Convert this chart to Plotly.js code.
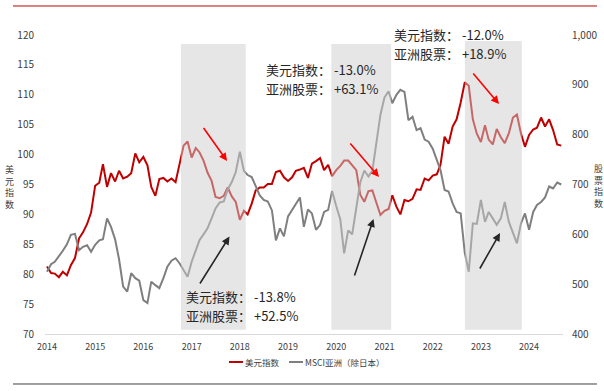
<!DOCTYPE html>
<html><head><meta charset="utf-8">
<script src="https://cdn.plot.ly/plotly-3.0.1.min.js"></script>
<style>html,body{margin:0;padding:0;background:#fff}#chart{width:604px;height:391px}</style>
</head><body><div id="chart"></div>
<script>
// ---- data (monthly, Jan 2014 – Sep 2024) ----
const startYear = 2014;
const monthCount = 129;
const dxy = [
  81.3, 80.2, 80.1, 79.5, 80.4, 79.8, 81.5, 82.7, 86.0, 87.0, 88.4, 90.3,
  94.8, 95.3, 98.4, 94.6, 96.9, 95.5, 97.3, 96.0, 96.3, 96.9, 100.2, 98.7,
  99.6, 98.2, 94.6, 93.1, 95.9, 96.1, 95.5, 96.0, 95.4, 98.4, 101.5, 102.2,
  99.5, 101.1, 100.4, 99.0, 97.0, 95.6, 92.9, 92.7, 93.1, 94.5, 93.0, 92.1,
  89.1, 90.6, 90.0, 91.8, 94.0, 94.5, 94.5, 95.1, 95.1, 97.1, 97.3, 96.2,
  95.6, 96.2, 97.3, 97.5, 97.8, 96.1, 98.5, 98.9, 99.4, 97.4, 98.3, 96.4,
  97.4, 98.1, 99.0, 99.0, 98.3, 97.4, 93.3, 92.1, 93.9, 94.0, 91.9, 89.9,
  90.6, 90.9, 93.2, 91.3, 90.0, 92.4, 92.2, 92.6, 94.2, 94.1, 96.0, 95.7,
  96.5, 96.7, 98.3, 103.0, 101.8, 104.7, 105.9, 108.7, 112.1, 111.5, 105.9, 103.5,
  102.1, 104.9, 102.5, 101.7, 104.3, 102.9, 101.9, 103.6, 106.2, 106.7, 103.5, 101.3,
  103.3, 104.2, 104.5, 106.2, 104.7, 105.9, 104.1, 101.7, 101.5
];
const msciAsia = [
  525, 540, 545, 555, 567, 580, 599, 601, 568, 575, 578, 565,
  579, 588, 590, 632, 615, 590, 550, 495, 485, 522, 512, 507,
  468, 462, 505, 498, 492, 512, 535, 547, 552, 542, 528, 515,
  545, 568, 588, 600, 612, 632, 652, 664, 666, 690, 705, 725,
  766, 727, 719, 715, 698, 678, 669, 666, 648, 588, 612, 596,
  636, 650, 662, 674, 615, 650, 642, 609, 619, 645, 649, 687,
  657, 630, 562, 608, 600, 655, 704, 728, 716, 728, 789, 840,
  875, 887, 863, 880, 890, 886, 829, 836, 809, 813, 790, 786,
  772, 749, 729, 689, 686, 662, 645, 642, 563, 525, 622, 621,
  669, 625, 645, 632, 619, 632, 665, 625, 602, 582, 622, 642,
  609, 645, 659, 665, 674, 696, 692, 704, 700
];
const seriesNames = ['美元指数', 'MSCI亚洲（除日本）'];
const leftTitle = '美元指数';
const rightTitle = '股票指数';
// shaded periods of USD weakness
const periodStart = ['2016-10-12', '2019-11-25', '2022-09-02'];
const periodEnd   = ['2018-02-15', '2021-02-20', '2023-11-07'];
const periodTop   = [118.5, 118.5, 119.0];
const usdChange   = ['-13.8%', '-13.0%', '-12.0%'];
const asiaChange  = ['+52.5%', '+63.1%', '+18.9%'];

// ---- build ----
const months = [];
for (let i = 0; i < monthCount; i++) {
  const y = startYear + Math.floor(i / 12), m = (i % 12) + 1;
  months.push(y + '-' + String(m).padStart(2, '0') + '-01');
}
const FONT = '"Noto Sans CJK SC", "Noto Sans", sans-serif';
const TXT = '#404040';
const RED = '#c00000', GREY = '#7f7f7f';

const traces = [
  {x: months, y: dxy, name: seriesNames[0], type: 'scatter', mode: 'lines',
   line: {color: RED, width: 2}, yaxis: 'y'},
  {x: months, y: msciAsia, name: seriesNames[1], type: 'scatter', mode: 'lines',
   line: {color: GREY, width: 2}, yaxis: 'y2'}
];

const shapes = [];
periodStart.forEach((s, i) => {
  shapes.push({type: 'rect', xref: 'x', yref: 'y', x0: s, x1: periodEnd[i],
    y0: 70.7, y1: periodTop[i], fillcolor: 'rgba(205,205,205,0.5)',
    line: {width: 0}, layer: 'above'});
});
// decorative frame lines
shapes.push({type: 'line', xref: 'paper', yref: 'paper', x0: -0.0618, x1: 1.0656, y0: 1.097, y1: 1.097,
  line: {color: '#c00000', width: 1}});
shapes.push({type: 'line', xref: 'paper', yref: 'paper', x0: -0.0618, x1: 1.0656, y0: -0.1672, y1: -0.1672,
  line: {color: '#404040', width: 1}});
// legend samples
shapes.push({type: 'line', xref: 'paper', yref: 'paper', x0: 0.3552, x1: 0.3822, y0: -0.0936, y1: -0.0936,
  line: {color: RED, width: 2}});
shapes.push({type: 'line', xref: 'paper', yref: 'paper', x0: 0.4710, x1: 0.4981, y0: -0.0936, y1: -0.0936,
  line: {color: GREY, width: 2}});

const annotations = [];
// [left x (paper), first-line centre y (px)]
const textPos = [[0.2703, 296], [0.4247, 69.5], [0.6718, 34.5]];
textPos.forEach((p, i) => {
  annotations.push({xref: 'paper', yref: 'paper', x: p[0], y: (334 - p[1]) / 299, xanchor: 'left', yanchor: 'middle',
    align: 'left', showarrow: false, borderpad: 0, text: '美元指数： ' + usdChange[i],
    font: {family: FONT, size: 13, color: '#262626'}});
  annotations.push({xref: 'paper', yref: 'paper', x: p[0], y: (334 - p[1] - 19) / 299, xanchor: 'left', yanchor: 'middle',
    align: 'left', showarrow: false, borderpad: 0, text: '亚洲股票： ' + asiaChange[i],
    font: {family: FONT, size: 13, color: '#262626'}});
});
const arrows = [
  [0.3514, 0.5786, -24.5, -34.5, '#ff0000'],
  [0.3562, 0.3261, -30.5, 48.5, '#262626'],
  [0.6448, 0.5251, -30, -35, '#ff0000'],
  [0.6342, 0.3846, -19.5, 58, '#262626'],
  [0.8764, 0.7692, -27, -32, '#ff0000'],
  [0.8784, 0.3378, -21, 37, '#262626']
];
arrows.forEach(a => {
  annotations.push({xref: 'paper', yref: 'paper', x: a[0], y: a[1], ax: a[2], ay: a[3], text: '',
    showarrow: true, arrowhead: 2, arrowsize: 1, arrowwidth: 1.6, arrowcolor: a[4], standoff: 0});
});
// vertical axis titles (upright stacked characters)
annotations.push({xref: 'paper', yref: 'paper', x: -0.0676, y: (334 - 187) / 299,
  xanchor: 'center', yanchor: 'middle', showarrow: false, align: 'center',
  text: Array.from(leftTitle).join('<br>'), font: {family: FONT, size: 9, color: TXT}});
annotations.push({xref: 'paper', yref: 'paper', x: 1.0676, y: (334 - 186) / 299,
  xanchor: 'center', yanchor: 'middle', showarrow: false, align: 'center',
  text: Array.from(rightTitle).join('<br>'), font: {family: FONT, size: 9, color: TXT}});
// legend labels
annotations.push({xref: 'paper', yref: 'paper', x: 0.3822, y: -0.0936, xanchor: 'left', yanchor: 'middle',
  showarrow: false, text: seriesNames[0], font: {family: FONT, size: 8.5, color: TXT}});
annotations.push({xref: 'paper', yref: 'paper', x: 0.4981, y: -0.0936, xanchor: 'left', yanchor: 'middle',
  showarrow: false, text: seriesNames[1], font: {family: FONT, size: 8.5, color: TXT}});

const layout = {
  width: 604, height: 391,
  margin: {l: 45, r: 41, t: 35, b: 57},
  paper_bgcolor: '#fff', plot_bgcolor: '#fff',
  showlegend: false,
  font: {family: FONT, color: TXT},
  xaxis: {type: 'date', range: ['2013-12-17', '2024-09-14'],
    tick0: '2014-01-01', dtick: 'M12', tickformat: '%Y',
    showgrid: false, zeroline: false, showline: true, linecolor: '#d9d9d9', linewidth: 1,
    ticks: '', ticklabelstandoff: 4, tickfont: {family: FONT, size: 9, color: TXT}},
  yaxis: {range: [70, 120], dtick: 5, showgrid: false, zeroline: false, showline: false,
    ticks: '', ticklabelstandoff: 10, tickfont: {family: FONT, size: 10, color: TXT}},
  yaxis2: {range: [400, 1000], dtick: 100, overlaying: 'y', side: 'right', tickformat: ',d',
    showgrid: false, zeroline: false, showline: false, ticks: '', ticklabelstandoff: 8,
    tickfont: {family: FONT, size: 10, color: TXT}},
  shapes: shapes,
  annotations: annotations
};
Plotly.newPlot('chart', traces, layout, {displayModeBar: false, staticPlot: true});
</script>
</body></html>
